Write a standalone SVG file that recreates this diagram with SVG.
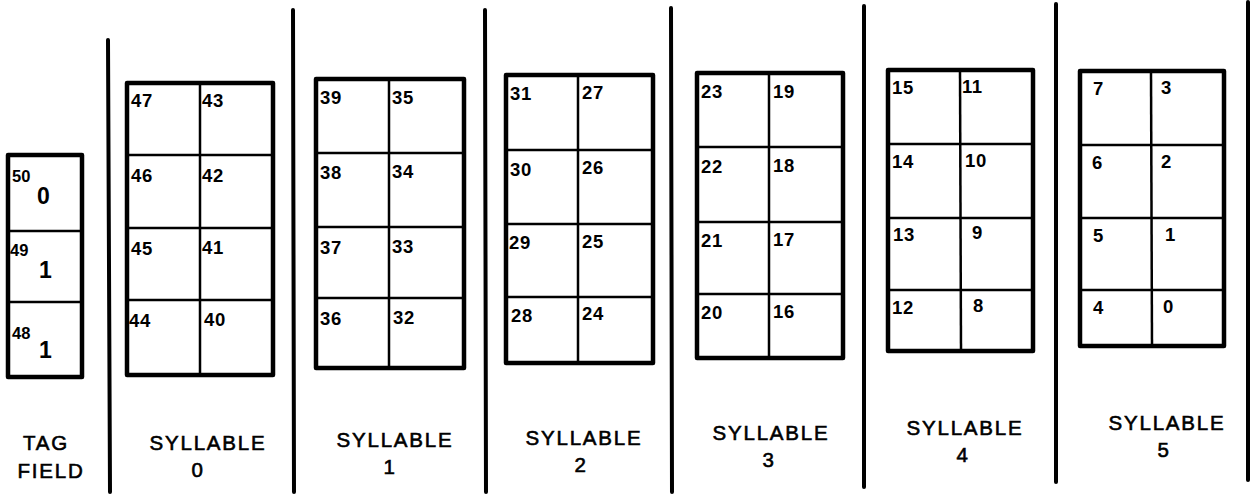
<svg xmlns="http://www.w3.org/2000/svg" width="1252" height="495" viewBox="0 0 1252 495">
<style>
.sep{stroke:#000;stroke-width:4;stroke-linecap:round}
.box{fill:#fff;stroke:#000;stroke-width:4.5;stroke-linejoin:round}
.in{stroke:#000;stroke-width:2.5}
.n{font-family:"Liberation Sans",Arial,sans-serif;font-weight:bold;font-size:18.5px;letter-spacing:0.6px;fill:#000}
.s{font-family:"Liberation Sans",Arial,sans-serif;font-weight:bold;font-size:16.5px;fill:#000}
.b{font-family:"Liberation Sans",Arial,sans-serif;font-weight:bold;font-size:23px;fill:#000}
.l{font-family:"Liberation Sans",Arial,sans-serif;font-size:20.5px;fill:#000;stroke:#000;stroke-width:0.6;text-anchor:middle;letter-spacing:1.8px}
</style>
<rect width="1252" height="495" fill="#fff"/>
<g id="separators">
<line class="sep" x1="108" y1="40" x2="110" y2="492"/>
<line class="sep" x1="293" y1="10" x2="294" y2="492"/>
<line class="sep" x1="485" y1="10" x2="486" y2="492"/>
<line class="sep" x1="671" y1="8" x2="672" y2="492"/>
<line class="sep" x1="864" y1="6" x2="864" y2="487"/>
<line class="sep" x1="1056" y1="4" x2="1056" y2="482"/>
<line class="sep" x1="1248" y1="2" x2="1248" y2="480"/>
</g>
<g id="tag-field">
<rect class="box" x="8" y="155" width="74" height="222"/>
<line class="in" x1="8" y1="231" x2="82" y2="231"/>
<line class="in" x1="8" y1="302" x2="82" y2="302"/>
<text class="s" x="12" y="182">50</text><text class="b" x="37" y="204">0</text>
<text class="s" x="10" y="256">49</text><text class="b" x="39" y="278">1</text>
<text class="s" x="12" y="339">48</text><text class="b" x="39" y="358">1</text>
<text class="l" x="46" y="450">TAG</text>
<text class="l" x="51" y="478">FIELD</text>
</g>
<g id="syllable-0">
<rect class="box" x="127" y="83" width="146" height="292"/>
<line class="in" x1="200" y1="83" x2="200" y2="375"/>
<line class="in" x1="127" y1="155" x2="273" y2="155"/>
<line class="in" x1="127" y1="228" x2="273" y2="228"/>
<line class="in" x1="127" y1="300" x2="273" y2="300"/>
<text class="n" x="131" y="107">47</text><text class="n" x="202" y="107">43</text>
<text class="n" x="131" y="182">46</text><text class="n" x="202" y="182">42</text>
<text class="n" x="131" y="255">45</text><text class="n" x="202" y="254">41</text>
<text class="n" x="129" y="327">44</text><text class="n" x="204" y="326">40</text>
<text class="l" x="208" y="450">SYLLABLE</text>
<text class="l" x="198" y="477">0</text>
</g>
<g id="syllable-1">
<rect class="box" x="316" y="79" width="148" height="289"/>
<line class="in" x1="389" y1="79" x2="389" y2="368"/>
<line class="in" x1="316" y1="153" x2="464" y2="153"/>
<line class="in" x1="316" y1="227" x2="464" y2="227"/>
<line class="in" x1="316" y1="298" x2="464" y2="298"/>
<text class="n" x="320" y="104">39</text><text class="n" x="392" y="104">35</text>
<text class="n" x="320" y="179">38</text><text class="n" x="392" y="178">34</text>
<text class="n" x="320" y="254">37</text><text class="n" x="392" y="253">33</text>
<text class="n" x="320" y="325">36</text><text class="n" x="393" y="324">32</text>
<text class="l" x="395" y="447">SYLLABLE</text>
<text class="l" x="390" y="474">1</text>
</g>
<g id="syllable-2">
<rect class="box" x="506" y="75" width="147" height="288"/>
<line class="in" x1="578" y1="75" x2="578" y2="363"/>
<line class="in" x1="506" y1="150" x2="653" y2="150"/>
<line class="in" x1="506" y1="224" x2="653" y2="224"/>
<line class="in" x1="506" y1="297" x2="653" y2="297"/>
<text class="n" x="510" y="100">31</text><text class="n" x="582" y="99">27</text>
<text class="n" x="510" y="176">30</text><text class="n" x="582" y="174">26</text>
<text class="n" x="509" y="249">29</text><text class="n" x="582" y="248">25</text>
<text class="n" x="511" y="322">28</text><text class="n" x="582" y="320">24</text>
<text class="l" x="584" y="445">SYLLABLE</text>
<text class="l" x="581" y="472">2</text>
</g>
<g id="syllable-3">
<rect class="box" x="697" y="73" width="146" height="285"/>
<line class="in" x1="769" y1="73" x2="769" y2="358"/>
<line class="in" x1="697" y1="147" x2="843" y2="147"/>
<line class="in" x1="697" y1="222" x2="843" y2="222"/>
<line class="in" x1="697" y1="294" x2="843" y2="294"/>
<text class="n" x="701" y="98">23</text><text class="n" x="773" y="98">19</text>
<text class="n" x="701" y="173">22</text><text class="n" x="773" y="172">18</text>
<text class="n" x="701" y="247">21</text><text class="n" x="773" y="246">17</text>
<text class="n" x="701" y="319">20</text><text class="n" x="773" y="318">16</text>
<text class="l" x="771" y="440">SYLLABLE</text>
<text class="l" x="769" y="467">3</text>
</g>
<g id="syllable-4">
<rect class="box" x="888" y="70" width="145" height="281"/>
<line class="in" x1="960" y1="70" x2="961" y2="351"/>
<line class="in" x1="888" y1="144" x2="1033" y2="144"/>
<line class="in" x1="888" y1="218" x2="1033" y2="218"/>
<line class="in" x1="888" y1="290" x2="1033" y2="290"/>
<text class="n" x="892" y="94">15</text><text class="n" x="962" y="93">11</text>
<text class="n" x="892" y="168">14</text><text class="n" x="965" y="167">10</text>
<text class="n" x="893" y="241">13</text><text class="n" x="972" y="239">9</text>
<text class="n" x="892" y="314">12</text><text class="n" x="973" y="312">8</text>
<text class="l" x="965" y="435">SYLLABLE</text>
<text class="l" x="963" y="462">4</text>
</g>
<g id="syllable-5">
<rect class="box" x="1080" y="71" width="144" height="275"/>
<line class="in" x1="1151" y1="71" x2="1152" y2="346"/>
<line class="in" x1="1080" y1="145" x2="1224" y2="145"/>
<line class="in" x1="1080" y1="218" x2="1224" y2="218"/>
<line class="in" x1="1080" y1="290" x2="1224" y2="290"/>
<text class="n" x="1093" y="95">7</text><text class="n" x="1161" y="94">3</text>
<text class="n" x="1092" y="169">6</text><text class="n" x="1161" y="168">2</text>
<text class="n" x="1093" y="242">5</text><text class="n" x="1165" y="241">1</text>
<text class="n" x="1093" y="314">4</text><text class="n" x="1163" y="313">0</text>
<text class="l" x="1167" y="430">SYLLABLE</text>
<text class="l" x="1164" y="457">5</text>
</g>
</svg>
